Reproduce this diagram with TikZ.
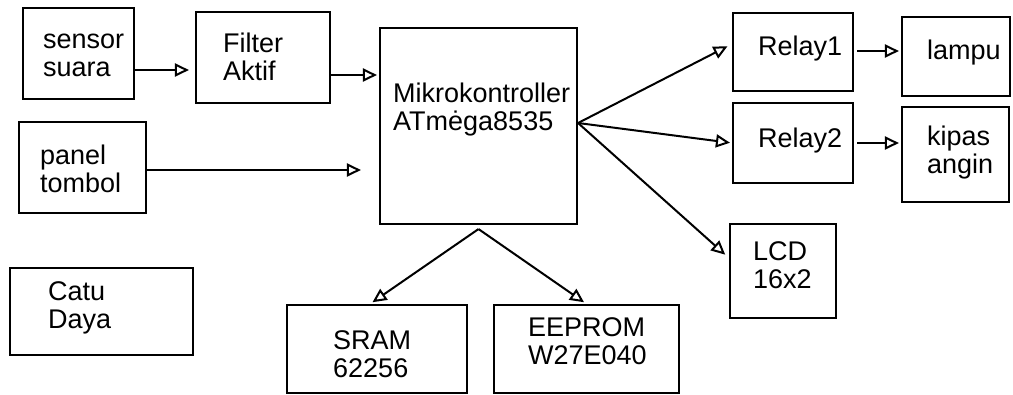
\documentclass[tikz,border=0pt]{standalone}
\usepackage{fontspec}
\setmainfont{Liberation Sans}
\usetikzlibrary{arrows.meta,calc}
\begin{document}
\begin{tikzpicture}[x=1pt,y=-1pt,
  box/.style={draw, line width=2.1pt, inner sep=0pt},
  lbl/.style={anchor=north west, inner sep=0pt, align=left, font=\fontsize{27}{28}\selectfont},
  arr/.style={line width=2pt, -{Triangle[open,length=14pt,width=13pt]}}]
\useasboundingbox (0,0) rectangle (1013,394);

% boxes
\node[box, minimum width=111pt, minimum height=91pt] (sensor) at (78.5,53.5) {};
\node[box, minimum width=134pt, minimum height=91pt] (fil) at (263,57.5) {};
\node[box, minimum width=127pt, minimum height=91pt] (panel) at (82.5,167.5) {};
\node[box, minimum width=197pt, minimum height=196pt] (mik) at (478.5,126) {};
\node[box, minimum width=120pt, minimum height=78pt] (r1) at (793,52) {};
\node[box, minimum width=108pt, minimum height=79pt] (lampu) at (956,56.5) {};
\node[box, minimum width=120pt, minimum height=80pt] (r2) at (793,143) {};
\node[box, minimum width=107pt, minimum height=95pt] (kipas) at (955.5,154.5) {};
\node[box, minimum width=106pt, minimum height=94pt] (lcd) at (783,271) {};
\node[box, minimum width=183pt, minimum height=87pt] (catu) at (101.5,311.5) {};
\node[box, minimum width=180pt, minimum height=88pt] (sram) at (377,349) {};
\node[box, minimum width=185pt, minimum height=88pt] (eeprom) at (586.5,349) {};

% labels
\node[lbl] (sensorT) at (43,28.4) {sensor\strut\\suara\strut};
\node[lbl] (filT) at (223,32.4) {Filter\strut\\Aktif\strut};
\node[lbl] (panelT) at (40,144.4) {panel\strut\\tombol\strut};
\node[lbl, font=\fontsize{27}{26}\selectfont] (mikT) at (393,82.8) {Mikrokontroller\strut\\ATmėga8535\strut};
\node[lbl] (r1T) at (758,35.4) {Relay1\strut};
\node[lbl] (lampuT) at (927,39.4) {lampu\strut};
\node[lbl] (r2T) at (758,127.4) {Relay2\strut};
\node[lbl] (kipasT) at (927,125.4) {kipas\strut\\angin\strut};
\node[lbl] (lcdT) at (753,240.4) {LCD\strut\\16x2\strut};
\node[lbl] (catuT) at (48,280.4) {Catu\strut\\Daya\strut};
\node[lbl] (sramT) at (333,329.4) {SRAM\strut\\62256\strut};
\node[lbl] (eepromT) at (528,316.4) {EEPROM\strut\\W27E040\strut};

% connector anchors
\coordinate (a1) at ($(sensor.east)+(0,16.5)$);
\coordinate (a2) at ($(fil.east)+(0,17.5)$);
\coordinate (a3) at ($(panel.east)+(0,2.5)$);
\coordinate (m1) at ($(mik.east)+(0,-3)$);
\coordinate (m2) at ($(mik.south)+(0,4)$);
\coordinate (r1in) at ($(r1.west)+(0,-8)$);
\coordinate (lcdin) at ($(lcd.west)+(0,-13)$);
\coordinate (sramin) at ($(sram.north)+(-7,0)$);
\coordinate (b1) at ($(r1.east)+(0,-1)$);

% connectors
\draw[arr, shorten >=6pt] (a1) -- (a1 -| fil.west);
\draw[arr, shorten >=2pt] (a2) -- (a2 -| mik.west);
\draw[arr, shorten >=18pt] (a3) -- (a3 -| mik.west);
\draw[arr, shorten >=5pt] (m1) -- (r1in);
\draw[arr, shorten >=2pt] (m1) -- (r2.west);
\draw[arr, shorten >=5pt] (m1) -- (lcdin);
\draw[arr, shorten <=3pt, shorten >=2pt] (b1) -- (b1 -| lampu.west);
\draw[arr, shorten <=3pt, shorten >=2pt] (r2.east) -- (r2.east -| kipas.west);
\draw[arr, shorten >=3pt] (m2) -- (sramin);
\draw[arr, shorten >=3pt] (m2) -- (eeprom.north);
\end{tikzpicture}
\end{document}
